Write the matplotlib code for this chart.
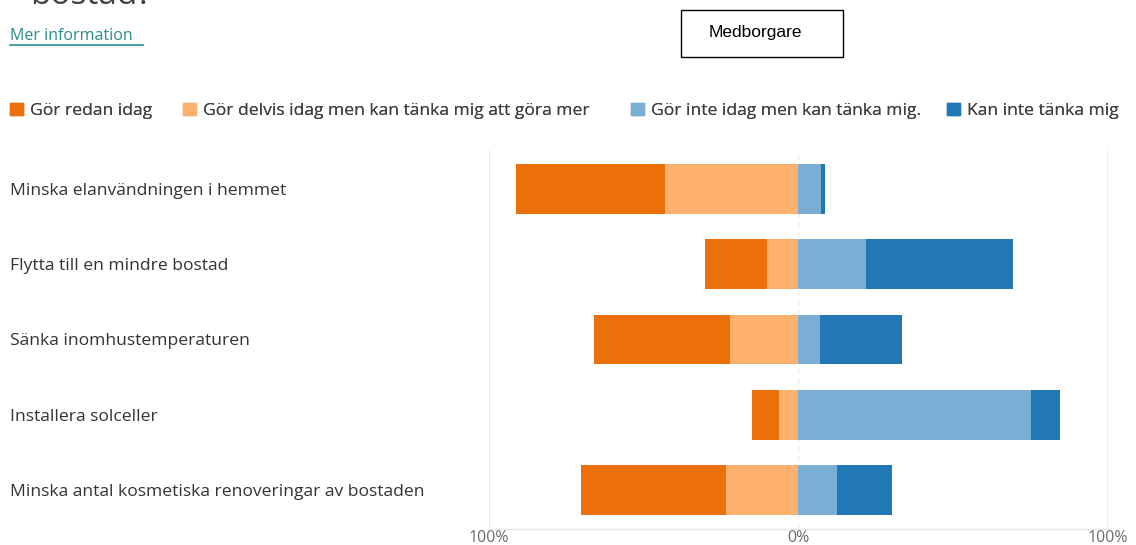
"""Diverging stacked bar chart: energy-saving actions (Medborgare)."""
import matplotlib.pyplot as plt
import matplotlib.patches as mpatches
from matplotlib.lines import Line2D
import numpy as np

plt.rcParams["font.family"] = ["Open Sans", "DejaVu Sans"]

categories = [
    "Minska elanvändningen i hemmet",
    "Flytta till en mindre bostad",
    "Sänka inomhustemperaturen",
    "Installera solceller",
    "Minska antal kosmetiska renoveringar av bostaden",
]
series_names = [
    "Gör redan idag",
    "Gör delvis idag men kan tänka mig att göra mer",
    "Gör inte idag men kan tänka mig.",
    "Kan inte tänka mig",
]
# percent per category
gor_redan = [48.4, 20.3, 44.2, 8.8, 46.9]
gor_delvis = [43.0, 10.0, 22.0, 6.2, 23.4]
gor_inte = [7.2, 22.0, 7.0, 75.3, 12.6]
kan_inte = [1.3, 47.4, 26.7, 9.3, 17.6]

tick_vals = [-100, 0, 100]
tick_labels = ["100%", "0%", "100%"]

colors = ["#EB700A", "#FEB06E", "#7BAED4", "#2178B4"]
legend_x = [10, 183, 631, 947]  # pixel position of each legend square

W, H = 1136, 545


def main():
    fig = plt.figure(figsize=(W / 100, H / 100), dpi=100)
    ax = fig.add_axes([489 / W, 1 - 529 / H, (1107.5 - 489) / W, (529 - 150) / H])

    y = np.arange(len(categories))
    h = 0.66
    a = np.array(gor_redan)
    b = np.array(gor_delvis)
    c = np.array(gor_inte)
    d = np.array(kan_inte)

    ax.barh(y, -a, left=-b, height=h, color=colors[0], edgecolor="none")
    ax.barh(y, -b, left=0, height=h, color=colors[1], edgecolor="none")
    ax.barh(y, c, left=0, height=h, color=colors[2], edgecolor="none")
    ax.barh(y, d, left=c, height=h, color=colors[3], edgecolor="none")

    ax.set_xlim(-100, 100)
    ax.set_ylim(len(categories) - 0.48, -0.52)
    ax.set_xticks(tick_vals)
    ax.set_xticklabels(tick_labels, color="#6b6b6b", fontsize=11.5)
    ax.tick_params(axis="x", length=0, pad=1)
    ax.set_yticks([])
    for s in ["top", "left", "right"]:
        ax.spines[s].set_visible(False)
    ax.spines["bottom"].set_color("#e6e6e6")
    ax.spines["bottom"].set_linewidth(1.0)

    ax.axvline(-100, color="#e8e8e8", lw=1.2, zorder=0)
    ax.axvline(100, color="#e8e8e8", lw=1.2, zorder=0)
    ax.axvline(0, color="#ececec", lw=1.0, ls=(0, (4, 3)), zorder=0)

    # category labels on the far left
    for yi, cat in zip(y, categories):
        y_fig = fig.transFigure.inverted().transform(ax.transData.transform((0, yi)))[1]
        fig.text(10 / W, y_fig - 2 / H, cat, ha="left", va="center", fontsize=12.6,
                 color="#333333")

    # legend, one entry per block so each sits where the reference puts it
    for col, name, lx in zip(colors, series_names, legend_x):
        leg = fig.legend(handles=[mpatches.Patch(color=col, label=name)], loc="center left",
                         bbox_to_anchor=(lx / W, 1 - 111 / H), frameon=False, fontsize=12.6,
                         handlelength=0.72, handleheight=0.72, handletextpad=0.4,
                         borderpad=0, borderaxespad=0, labelcolor="#404040")
        fig.add_artist(leg)

    # header bits
    fig.text(30 / W, 1 + 4 / H, "bostad?", fontsize=24, color="#404040", ha="left", va="center")
    fig.text(10 / W, 1 - 36 / H, "Mer information", fontsize=11.5, color="#2a8c8c",
             ha="left", va="center")
    fig.add_artist(Line2D([10 / W, 143 / W], [1 - 45 / H, 1 - 45 / H],
                          transform=fig.transFigure, color="#2a8c8c", lw=1.2))

    fig.add_artist(mpatches.Rectangle((681 / W, 1 - 57 / H), 162 / W, 47 / H,
                                      transform=fig.transFigure, fill=False,
                                      edgecolor="black", lw=1.0))
    fig.text(755 / W, 1 - 33 / H, "Medborgare", fontsize=12.5, color="black",
             ha="center", va="center", family=["Liberation Sans", "DejaVu Sans"])

    fig.savefig("out.png", dpi=100)


if __name__ == "__main__":
    main()
